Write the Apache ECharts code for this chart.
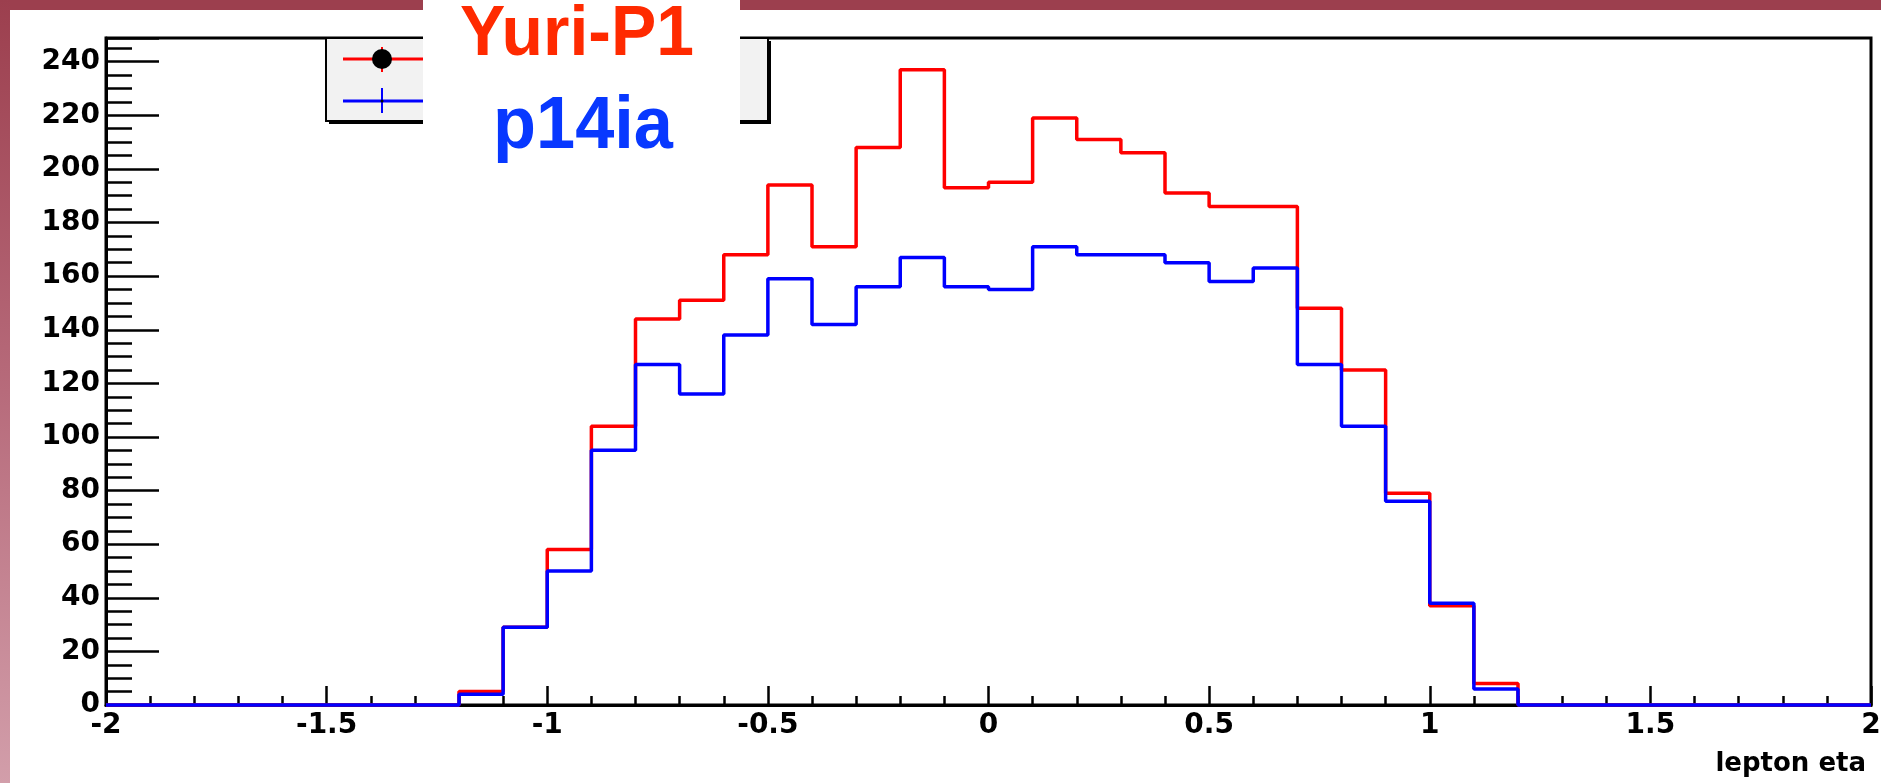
<!DOCTYPE html>
<html>
<head>
<meta charset="utf-8">
<script src="https://cdn.jsdelivr.net/npm/echarts/dist/echarts.min.js"></script>
<style>
  html, body { margin: 0; padding: 0; background: #ffffff; }
  #chart { width: 1881px; height: 783px; }
</style>
</head>
<body>
<div id="chart"></div>
<script>
// Bin edges of the lepton eta histogram (41 edges -> 40 bins)
const binEdges = [-2.0, -1.9, -1.8, -1.7, -1.6, -1.5, -1.4, -1.3, -1.2, -1.1,
                  -1.0, -0.9, -0.8, -0.7, -0.6, -0.5, -0.4, -0.3, -0.2, -0.1,
                   0.0,  0.1,  0.2,  0.3,  0.4,  0.5,  0.6,  0.7,  0.8,  0.9,
                   1.0,  1.1,  1.2,  1.3,  1.4,  1.5,  1.6,  1.7,  1.8,  1.9, 2.0];

// Red histogram (Yuri-P1)
const yuriP1 = [0, 0, 0, 0, 0, 0, 0, 0, 5, 29,
                58, 104, 144, 151, 168, 194, 171, 208, 237, 193,
                195, 219, 211, 206, 191, 186, 186, 148, 125, 79,
                37, 8, 0, 0, 0, 0, 0, 0, 0, 0];

// Blue histogram (p14ia)
const p14ia = [0, 0, 0, 0, 0, 0, 0, 0, 4, 29,
               50, 95, 127, 116, 138, 159, 142, 156, 167, 156,
               155, 171, 168, 168, 165, 158, 163, 127, 104, 76,
               38, 6, 0, 0, 0, 0, 0, 0, 0, 0];

const yMax = 248.85;
const xAxisTitle = 'lepton eta';
const label1 = 'Yuri-P1';
const label2 = 'p14ia';

function histData(values) {
  const d = values.map((v, i) => [binEdges[i], v]);
  d.push([binEdges[binEdges.length - 1], values[values.length - 1]]);
  return d;
}

const labelFont = { fontFamily: 'DejaVu Sans', fontWeight: 'bold', fontSize: 28, color: '#000' };

const chart = echarts.init(document.getElementById('chart'), null, { renderer: 'canvas' });

const option = {
  animation: false,
  backgroundColor: '#ffffff',
  grid: {
    left: 106, right: 10, top: 38, bottom: 78,
    show: true, borderColor: '#000', borderWidth: 3, backgroundColor: 'transparent',
    containLabel: false, outerBoundsMode: 'none'
  },
  xAxis: {
    type: 'value', min: -2, max: 2, interval: 0.5,
    name: xAxisTitle, nameLocation: 'end', nameGap: 0,
    nameTextStyle: { fontFamily: 'DejaVu Sans', fontWeight: 'bold', fontSize: 26, color: '#000',
                     align: 'right', verticalAlign: 'top', padding: [46, 5, 0, 0] },
    axisLine: { show: true, onZero: false, lineStyle: { color: '#000', width: 3 } },
    axisTick: { show: true, inside: true, length: 19, lineStyle: { color: '#000', width: 2.5 } },
    minorTick: { show: true, splitNumber: 5, length: 9, lineStyle: { color: '#000', width: 2.5 } },
    axisLabel: Object.assign({ margin: 7, showMinLabel: true, showMaxLabel: true }, labelFont),
    splitLine: { show: false }, minorSplitLine: { show: false }
  },
  yAxis: [
    {
      type: 'value', min: 0, max: yMax, interval: 20, position: 'left',
      axisLine: { show: true, onZero: false, lineStyle: { color: '#000', width: 3 } },
      axisTick: { show: true, inside: true, length: 53, lineStyle: { color: '#000', width: 2.5 } },
      axisLabel: Object.assign({
        margin: 6,
        formatter: function (v) {
          return Math.abs(v / 20 - Math.round(v / 20)) < 1e-6 ? String(Math.round(v)) : '';
        }
      }, labelFont),
      splitLine: { show: false }
    },
    {
      type: 'value', min: 0, max: yMax, interval: 5, position: 'left',
      axisLine: { show: false, onZero: false },
      axisTick: { show: true, inside: true, length: 26, lineStyle: { color: '#000', width: 2.5 } },
      axisLabel: { show: false },
      splitLine: { show: false }
    }
  ],
  series: [
    {
      name: label1, type: 'line', step: 'end', data: histData(yuriP1),
      symbol: 'none', clip: false, z: 2, silent: true,
      lineStyle: { color: '#ff0000', width: 3.5 }, itemStyle: { color: '#ff0000' }
    },
    {
      name: label2, type: 'line', step: 'end', data: histData(p14ia),
      symbol: 'none', clip: false, z: 3, silent: true,
      lineStyle: { color: '#0000ff', width: 3.5 }, itemStyle: { color: '#0000ff' }
    }
  ],
  graphic: [
    // slide decoration: maroon band at top and gradient strip on left
    { type: 'rect', z: 100, silent: true, shape: { x: 0, y: 0, width: 1881, height: 10 },
      style: { fill: '#9c3f4e' } },
    { type: 'rect', z: 100, silent: true, shape: { x: 0, y: 0, width: 10, height: 783 },
      style: { fill: new echarts.graphic.LinearGradient(0, 0, 0, 1, [
        { offset: 0, color: '#9c3f4e' }, { offset: 0.5, color: '#b76b7b' }, { offset: 1, color: '#d29eaa' }
      ]) } },
    // legend box
    { type: 'rect', z: 100, silent: true, shape: { x: 767, y: 41, width: 4, height: 83 },
      style: { fill: '#000' } },
    { type: 'rect', z: 100, silent: true, shape: { x: 329, y: 120, width: 442, height: 4 },
      style: { fill: '#000' } },
    { type: 'rect', z: 100, silent: true, shape: { x: 326, y: 38, width: 442, height: 83 },
      style: { fill: '#f2f2f2', stroke: '#000', lineWidth: 2 } },
    { type: 'line', z: 101, silent: true, shape: { x1: 343, y1: 59, x2: 430, y2: 59 },
      style: { stroke: '#ff0000', lineWidth: 3 } },
    { type: 'line', z: 101, silent: true, shape: { x1: 382, y1: 47, x2: 382, y2: 72 },
      style: { stroke: '#ff0000', lineWidth: 2 } },
    { type: 'circle', z: 102, silent: true, shape: { cx: 382, cy: 59, r: 10 },
      style: { fill: '#000' } },
    { type: 'line', z: 101, silent: true, shape: { x1: 343, y1: 101, x2: 430, y2: 101 },
      style: { stroke: '#0000ff', lineWidth: 3 } },
    { type: 'line', z: 101, silent: true, shape: { x1: 382, y1: 88, x2: 382, y2: 113 },
      style: { stroke: '#0000ff', lineWidth: 2 } },
    { type: 'circle', z: 102, silent: true, shape: { cx: 382, cy: 101, r: 1.5 },
      style: { fill: '#000' } },
    // white label box covering legend text
    { type: 'rect', z: 110, silent: true, shape: { x: 423, y: 0, width: 317, height: 130 },
      style: { fill: '#ffffff' } },
    { type: 'text', z: 111, silent: true, x: 577, y: 36, scaleX: 0.97,
      style: { text: label1, x: 0, y: 0, font: 'bold 70px "Liberation Sans", Arial, sans-serif',
               fill: '#ff2a00', align: 'center', verticalAlign: 'middle',
               textAlign: 'center', textVerticalAlign: 'middle' } },
    { type: 'text', z: 111, silent: true, x: 583, y: 128, scaleX: 0.95,
      style: { text: label2, x: 0, y: 0, font: 'bold 74px "Liberation Sans", Arial, sans-serif',
               fill: '#0838ff', align: 'center', verticalAlign: 'middle',
               textAlign: 'center', textVerticalAlign: 'middle' } }
  ]
};

chart.setOption(option);
</script>
</body>
</html>
